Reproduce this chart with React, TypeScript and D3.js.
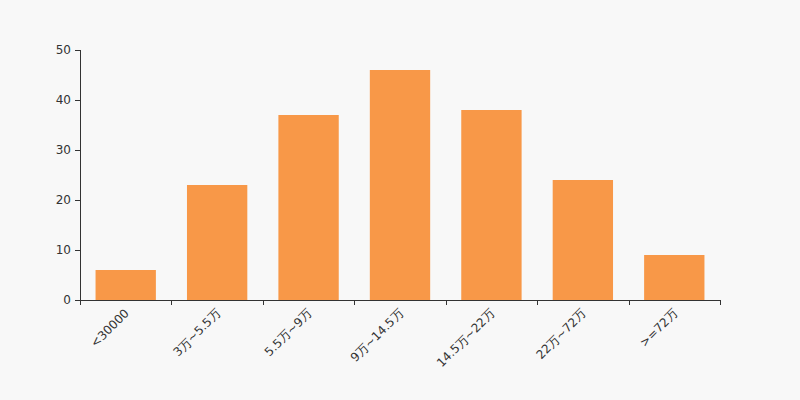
import React from "react";
import * as d3 from "d3";

const categories = ["<30000", "3万~5.5万", "5.5万~9万", "9万~14.5万", "14.5万~22万", "22万~72万", ">=72万"];
const values = [6, 23, 37, 46, 38, 24, 9];
const yTicks = [0, 10, 20, 30, 40, 50];

const W = 800, H = 400;
const M = { left: 80, right: 80, top: 50, bottom: 100 };

export default function App() {
  const x = d3.scaleBand<string>().domain(categories).range([M.left, W - M.right]).paddingInner(0.34).paddingOuter(0.17);
  const xb = d3.scaleBand<string>().domain(categories).range([M.left, W - M.right]);
  const y = d3.scaleLinear().domain([0, 50]).range([H - M.bottom, M.top]);
  const font = "'DejaVu Sans', sans-serif";
  const boundaries = [...categories.map((c) => xb(c)!), W - M.right];
  return (
    <svg width={W} height={H} style={{ position: "absolute", left: 0, top: 0, background: "#f8f8f8" }} fontFamily={font}>
      <rect x={0} y={0} width={W} height={H} fill="#f8f8f8" />
      {categories.map((c, i) => (
        <rect key={c} x={x(c)} y={y(values[i])} width={x.bandwidth()} height={y(0) - y(values[i])} fill="#f89848" />
      ))}
      <line x1={M.left + 0.5} x2={M.left + 0.5} y1={y(50)} y2={y(0)} stroke="#333" />
      {yTicks.map((t) => (
        <g key={t}>
          <line x1={M.left - 5} x2={M.left} y1={Math.round(y(t)) + 0.5} y2={Math.round(y(t)) + 0.5} stroke="#333" />
          <text x={M.left - 9} y={y(t)} dy="0.35em" textAnchor="end" fontSize={12} fill="#333">{t}</text>
        </g>
      ))}
      <line x1={M.left} x2={W - M.right} y1={y(0) + 0.5} y2={y(0) + 0.5} stroke="#333" />
      {boundaries.map((b, i) => (
        <line key={i} x1={Math.round(b) + 0.5} x2={Math.round(b) + 0.5} y1={y(0)} y2={y(0) + 5} stroke="#333" />
      ))}
      {categories.map((c) => {
        const cx = xb(c)! + xb.bandwidth() / 2;
        const cy = y(0) + 10;
        return (
          <text key={c} transform={`translate(${cx + 4},${cy + 4}) rotate(-45)`} textAnchor="end" fontSize={12} fill="#333">{c}</text>
        );
      })}
    </svg>
  );
}
